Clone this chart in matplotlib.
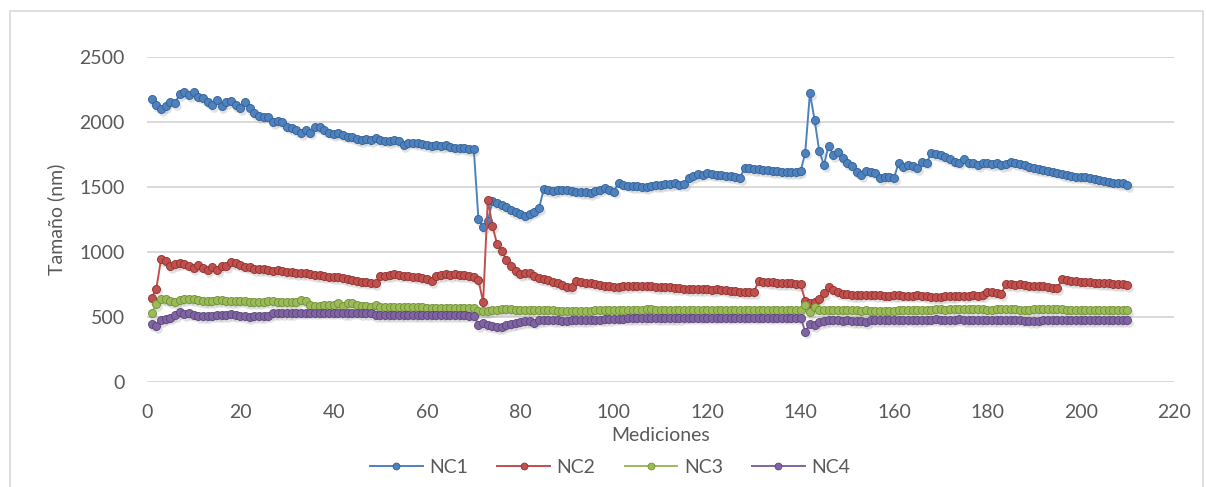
import numpy as np
import matplotlib
matplotlib.use("Agg")
import matplotlib.pyplot as plt
from matplotlib.patches import Rectangle
from matplotlib.transforms import offset_copy

plt.rcParams['font.family'] = ['Lato', 'DejaVu Sans']

# mediciones 1..210
mediciones = np.arange(1, 211)

nc1 = [
    2175, 2131, 2098, 2124, 2157, 2145, 2216, 2227, 2209, 2232,
    2196, 2183, 2157, 2131, 2170, 2124, 2155, 2165, 2131, 2106,
    2150, 2106, 2067, 2047, 2042, 2042, 2000, 2011, 2000, 1965,
    1952, 1939, 1914, 1939, 1919, 1965, 1960, 1939, 1919, 1909,
    1914, 1901, 1888, 1883, 1868, 1863, 1868, 1863, 1873, 1863,
    1857, 1850, 1863, 1850, 1824, 1842, 1842, 1837, 1832, 1824,
    1816, 1824, 1816, 1824, 1811, 1798, 1803, 1798, 1790, 1790,
    1251, 1189, 1240, 1390, 1375, 1360, 1345, 1325, 1305, 1290,
    1275, 1295, 1310, 1340, 1485, 1475, 1470, 1475, 1480, 1478,
    1472, 1465, 1462, 1460, 1452, 1470, 1480, 1495, 1480, 1464,
    1533, 1518, 1510, 1508, 1506, 1503, 1500, 1510, 1515, 1515,
    1520, 1525, 1528, 1518, 1520, 1570, 1585, 1598, 1595, 1605,
    1600, 1595, 1593, 1588, 1585, 1578, 1570, 1645, 1644, 1638,
    1635, 1630, 1628, 1625, 1622, 1618, 1615, 1612, 1612, 1620,
    1764, 2222, 2016, 1777, 1669, 1818, 1746, 1772, 1720, 1682,
    1661, 1618, 1592, 1626, 1618, 1605, 1567, 1579, 1574, 1567,
    1687, 1656, 1669, 1661, 1643, 1695, 1687, 1759, 1753, 1746,
    1728, 1713, 1695, 1687, 1713, 1687, 1682, 1669, 1687, 1682,
    1677, 1682, 1669, 1677, 1695, 1682, 1677, 1669, 1651, 1643,
    1636, 1631, 1626, 1618, 1610, 1600, 1592, 1585, 1579, 1579,
    1574, 1567, 1559, 1554, 1549, 1541, 1533, 1528, 1528, 1515,
]

nc2 = [
    647, 719, 943, 933, 891, 904, 912, 910, 895, 874,
    899, 880, 861, 887, 858, 895, 891, 925, 912, 899,
    887, 881, 866, 866, 866, 861, 856, 861, 850, 848,
    848, 840, 840, 836, 830, 822, 822, 815, 810, 806,
    804, 797, 790, 784, 779, 772, 771, 764, 758, 815,
    818, 825, 832, 825, 818, 815, 810, 808, 802, 795,
    775, 815, 825, 828, 822, 828, 822, 820, 815, 810,
    784, 616, 1400, 1200, 1058, 1009, 937, 891, 855, 830,
    840, 835, 815, 797, 789, 784, 771, 758, 745, 732,
    727, 778, 770, 765, 760, 752, 745, 740, 735, 730,
    732, 740, 738, 742, 737, 742, 742, 737, 732, 730,
    727, 727, 724, 722, 719, 717, 715, 712, 712, 712,
    707, 712, 710, 706, 702, 698, 696, 694, 692, 690,
    778, 772, 770, 768, 763, 760, 758, 758, 755, 752,
    625, 605, 615, 642, 686, 727, 707, 690, 680, 676,
    670, 668, 668, 672, 672, 670, 668, 665, 665, 668,
    668, 665, 665, 665, 668, 665, 660, 655, 652, 655,
    660, 658, 662, 665, 662, 665, 668, 665, 670, 690,
    692, 688, 678, 753, 750, 748, 750, 745, 742, 740,
    738, 735, 730, 725, 720, 789, 782, 778, 776, 772,
    768, 768, 765, 762, 760, 758, 755, 752, 750, 745,
]

nc3 = [
    532, 598, 642, 636, 624, 616, 632, 640, 642, 640,
    630, 625, 622, 622, 632, 628, 624, 620, 622, 626,
    620, 616, 616, 616, 618, 620, 620, 618, 616, 616,
    616, 616, 634, 624, 592, 584, 584, 590, 590, 596,
    610, 584, 610, 605, 590, 584, 584, 578, 592, 578,
    576, 575, 574, 574, 574, 574, 574, 574, 574, 573,
    573, 573, 573, 572, 572, 572, 572, 571, 570, 570,
    548, 545, 548, 552, 556, 558, 558, 558, 556, 555,
    552, 552, 550, 552, 555, 552, 550, 548, 548, 548,
    546, 548, 546, 546, 548, 550, 550, 552, 552, 552,
    552, 552, 554, 554, 556, 556, 558, 558, 556, 556,
    556, 556, 556, 556, 556, 556, 556, 556, 556, 556,
    556, 555, 555, 555, 555, 555, 555, 556, 556, 556,
    556, 555, 555, 555, 555, 555, 555, 555, 555, 556,
    595, 538, 578, 555, 552, 552, 550, 550, 552, 556,
    552, 550, 548, 552, 548, 545, 545, 548, 548, 545,
    550, 550, 552, 552, 552, 555, 556, 556, 558, 560,
    556, 558, 560, 562, 560, 558, 560, 562, 558, 556,
    556, 558, 560, 562, 558, 558, 556, 555, 555, 558,
    562, 562, 558, 560, 560, 558, 556, 556, 555, 555,
    555, 555, 555, 555, 553, 553, 553, 553, 552, 552,
]

nc4 = [
    445, 430, 478, 488, 496, 512, 540, 525, 530, 518,
    508, 506, 508, 510, 514, 516, 516, 520, 514, 510,
    508, 500, 504, 506, 508, 510, 530, 532, 532, 532,
    532, 534, 534, 534, 534, 534, 534, 534, 534, 534,
    534, 532, 532, 534, 534, 532, 530, 528, 516, 516,
    516, 516, 516, 516, 516, 516, 516, 516, 516, 516,
    514, 514, 514, 514, 514, 514, 512, 512, 510, 510,
    440, 452, 438, 430, 420, 425, 436, 448, 455, 462,
    470, 470, 456, 474, 478, 480, 478, 476, 472, 472,
    474, 474, 476, 478, 478, 480, 480, 484, 486, 488,
    488, 488, 490, 492, 494, 494, 494, 496, 494, 494,
    494, 494, 494, 494, 496, 496, 496, 496, 496, 496,
    496, 496, 496, 496, 496, 496, 496, 496, 496, 496,
    496, 496, 496, 496, 496, 496, 496, 496, 496, 496,
    388, 446, 440, 462, 470, 478, 476, 474, 472, 474,
    470, 468, 470, 458, 475, 476, 478, 476, 478, 478,
    476, 478, 480, 478, 476, 478, 480, 480, 482, 480,
    478, 478, 480, 482, 478, 478, 476, 476, 478, 478,
    478, 476, 476, 476, 474, 474, 474, 472, 470, 470,
    472, 474, 474, 476, 476, 476, 476, 476, 476, 476,
    476, 476, 476, 476, 476, 474, 474, 474, 474, 474,
]

series = {'NC1': nc1, 'NC2': nc2, 'NC3': nc3, 'NC4': nc4}
colores = {'NC1': '#4F81BD', 'NC2': '#C0504D', 'NC3': '#9BBB59', 'NC4': '#8064A2'}
bordes = {'NC1': '#2E5F96', 'NC2': '#8E2F2C', 'NC3': '#6E8E34', 'NC4': '#5A437A'}

gris = '#595959'

fig = plt.figure(figsize=(12.06, 4.87), dpi=100)
ax = fig.add_axes([0.1219, 0.2156, 0.8516, 0.6674])

# marco del grafico
fig.patches.append(Rectangle((10 / 1206, -0.05), 1193 / 1206, 1.05 - 11 / 487,
                             transform=fig.transFigure, fill=False,
                             edgecolor='#D9D9D9', linewidth=1.2))

# sombra suave bajo los marcadores
sombra = offset_copy(ax.transData, fig=fig, x=1.2, y=-2.0, units='points')

for nombre, valores in series.items():
    ax.plot(mediciones, valores, linestyle='none', marker='o', markersize=6.2,
            markerfacecolor='#7f7f7f', markeredgewidth=0, alpha=0.22,
            transform=sombra, zorder=1.5)
    ax.plot(mediciones, valores, color=colores[nombre], linewidth=1.4,
            marker='o', markersize=5.8, markerfacecolor=colores[nombre],
            markeredgecolor=bordes[nombre], markeredgewidth=0.6, label=nombre,
            zorder=2)

ax.set_xlim(0, 220)
ax.set_ylim(0, 2500)
ax.set_xticks(np.arange(0, 221, 20))
ax.set_yticks(np.arange(0, 2501, 500))
ax.yaxis.grid(True, color='#D9D9D9', linewidth=1.4)
ax.set_axisbelow(True)
for s in ax.spines.values():
    s.set_visible(False)
ax.tick_params(length=0, labelsize=14, colors=gris, pad=16)

ax.set_xlabel('Mediciones', fontsize=14, color=gris, labelpad=4)
ax.set_ylabel('Tamaño (nm)', fontsize=14, color=gris, labelpad=10)

fig.legend(loc='center', bbox_to_anchor=(0.506, 0.041), ncol=4, frameon=False,
           fontsize=14, labelcolor=gris, handlelength=2.7, handletextpad=0.35,
           columnspacing=1.5, markerscale=0.85)

fig.savefig('out.png', dpi=100)
